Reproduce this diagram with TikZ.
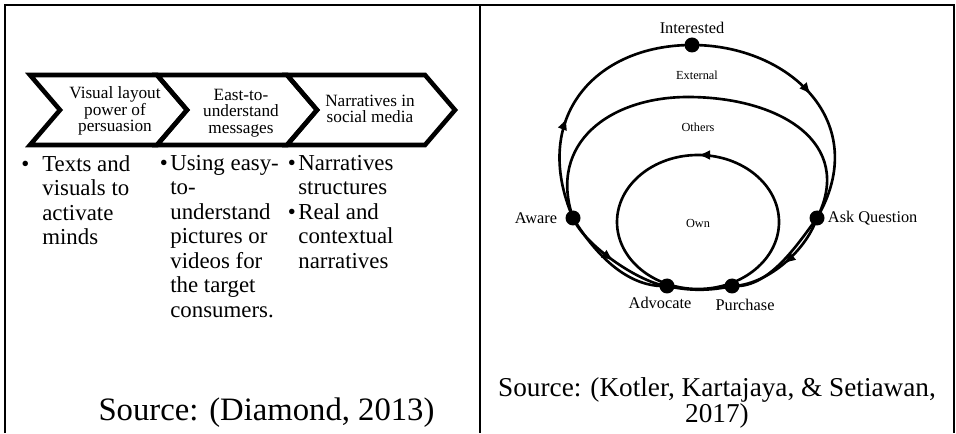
\documentclass[tikz,border=0pt]{standalone}
\usepackage{fontspec}
\setmainfont{Liberation Serif}
\usetikzlibrary{
    arrows.meta,         % arrow tips
    decorations.markings,% arrows along the loops
    positioning          % labels next to the stage dots
}

\begin{document}
\begin{tikzpicture}[
    >=Latex,
    frame/.style={line width=1.2pt}, % table rules
    chevron/.style={line width=2.6pt, miter limit=10}, % process chevrons
    chevtext/.style={align=center, inner sep=0pt, font=\fontsize{9.8}{9.4}\selectfont},
    points/.style={align=left, inner sep=0pt, anchor=north west, font=\fontsize{13}{13.9}\selectfont},
    loopline/.style={line width=1.5pt}, % customer path loops
    stage/.style={circle, fill, inner sep=0pt, minimum size=0.3cm},
    stagelabel/.style={inner sep=1pt, font=\fontsize{9.3}{11}\selectfont},
    zonelabel/.style={inner sep=0pt, font=\fontsize{7}{8}\selectfont},
    source/.style={align=center, inner sep=0pt, font=\fontsize{15.5}{15}\selectfont},
    % arrow placed along a path
    arrowat/.style={
        decoration={markings, mark=at position #1 with {\arrow{Latex[length=2.4mm, width=2mm]}}},
        postaction={decorate}
    },
    arrowback/.style={
        decoration={markings, mark=at position #1 with {\arrowreversed{Latex[length=2.4mm, width=2mm]}}},
        postaction={decorate}
    }
]

    \useasboundingbox (0,0) rectangle (19.12,8.66);

    % Table rules
    \draw[frame] (0.10,0) -- (0.10,8.56) -- (19.08,8.56) -- (19.08,0);
    \draw[frame] (9.60,8.56) -- (9.60,0);

    % Left panel: three chevrons
    \foreach \xl/\xr in {0.60/3.14, 3.14/5.74, 5.74/8.50}
        \draw[chevron] (\xl,7.16) -- (\xr,7.16) -- (\xr+0.6,6.46) -- (\xr,5.76)
            -- (\xl,5.76) -- (\xl+0.6,6.46) -- cycle;

    \node[chevtext] (visual) at (2.30,6.44) {Visual layout\\power of\\persuasion};
    \node[chevtext] (easy) at (4.82,6.40) {East-to-\\understand\\messages};
    \node[chevtext] (narr) at (7.40,6.48) {Narratives in\\social media};

    % Bullet points under the chevrons
    \node[points] (texts) at (0.84,5.56)
        {\llap{\textbullet\hspace{0.26cm}}Texts and\\visuals to\\activate\\minds};
    \node[points] (using) at (3.40,5.56)
        {\llap{\textbullet\hspace{0.05cm}}Using easy-\\to-\\understand\\pictures or\\videos for\\the target\\consumers.};
    \node[points] (struct) at (5.96,5.56)
        {\llap{\textbullet\hspace{0.05cm}}Narratives\\structures\\\llap{\textbullet\hspace{0.05cm}}Real and\\contextual\\narratives};

    \node[source, font=\fontsize{18.6}{18}\selectfont] (srcleft) at (5.33,0.40) {Source: (Diamond, 2013)};

    % Right panel: stage dots
    \node[stage] (interested) at (13.84,7.76) {};
    \node[stage] (aware) at (11.46,4.30) {};
    \node[stage] (askq) at (16.34,4.30) {};
    \node[stage] (advocate) at (13.34,2.94) {};
    \node[stage] (purchase) at (14.64,2.94) {};

    % Outer loop
    \draw[loopline, arrowat=0.4] (aware.center) .. controls (10.6,6.3) and (11.9,7.76) .. (interested.center);
    \draw[loopline, arrowat=0.5] (interested.center) .. controls (15.8,7.76) and (17.45,6.2) .. (askq.center);
    \draw[loopline, arrowat=0.5] (askq.center) .. controls (16.1,3.6) and (15.3,2.95) .. (purchase.center);
    \draw[loopline] (purchase.center) .. controls (14.2,2.84) and (13.78,2.84) .. (advocate.center);
    \draw[loopline, arrowback=0.5] (advocate.center) .. controls (12.8,3.0) and (11.69,3.75) .. (aware.center);

    % Middle loop
    \draw[loopline, arrowat=1] (aware.center) .. controls (10.95,5.8) and (12.2,6.72) .. (13.76,6.72);
    \draw[loopline] (13.76,6.72) .. controls (15.6,6.72) and (17.1,5.8) .. (askq.center);
    \draw[loopline] (askq.center) .. controls (15.9,3.7) and (15.35,2.88) .. (purchase.center);
    \draw[loopline] (advocate.center) .. controls (12.6,2.9) and (11.95,3.5) .. (aware.center);

    % Inner loop
    \draw[loopline, arrowat=0.25] (13.96,4.22) ellipse (1.62 and 1.34);

    % Stage and zone labels
    \node[stagelabel, above=0.02cm of interested] (lInterested) {Interested};
    \node[stagelabel, left=0.12cm of aware] (lAware) {Aware};
    \node[stagelabel, right=0.02cm of askq] (lAskq) {Ask Question};
    \node[stagelabel, below=0.02cm of advocate, xshift=-0.14cm] (lAdvocate) {Advocate};
    \node[stagelabel, below=0.06cm of purchase, xshift=0.26cm] (lPurchase) {Purchase};
    \node[zonelabel] (external) at (13.94,7.16) {External};
    \node[zonelabel] (others) at (13.96,6.12) {Others};
    \node[zonelabel] (own) at (13.96,4.20) {Own};

    \node[source] (srcright) at (14.34,0.60) {Source: (Kotler, Kartajaya, \& Setiawan,\\2017)};

\end{tikzpicture}
\end{document}
